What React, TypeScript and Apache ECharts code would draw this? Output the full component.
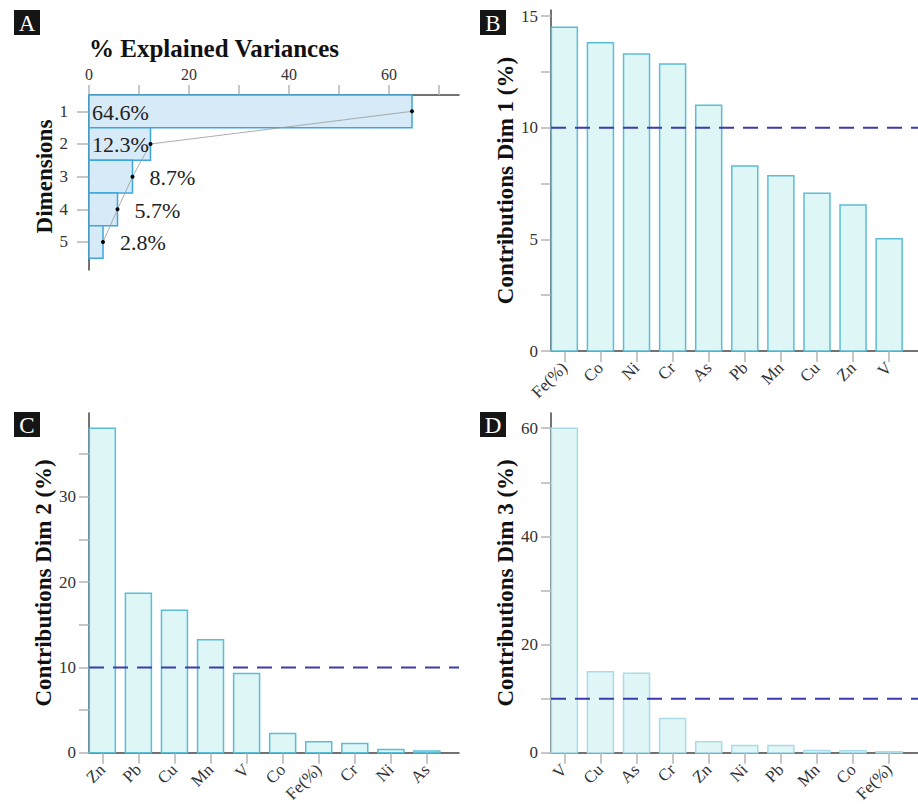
import React, { useEffect, useRef } from 'react';
import * as echarts from 'echarts';

// ---- Data ----
const dimIndex = [1, 2, 3, 4, 5];
const explainedVar = [64.6, 12.3, 8.7, 5.7, 2.8];
const varTickValues = [0, 10, 20, 30, 40, 50, 60, 70];
const varLabelValues = [0, 20, 40, 60];

const dim1Cats = ['Fe(%)', 'Co', 'Ni', 'Cr', 'As', 'Pb', 'Mn', 'Cu', 'Zn', 'V'];
const dim1Vals = [14.5, 13.8, 13.3, 12.85, 11.0, 8.28, 7.85, 7.06, 6.54, 5.03];
const dim1Ticks = [0, 2.5, 5, 7.5, 10, 12.5, 15];
const dim1Labels = [0, 5, 10, 15];

const dim2Cats = ['Zn', 'Pb', 'Cu', 'Mn', 'V', 'Co', 'Fe(%)', 'Cr', 'Ni', 'As'];
const dim2Vals = [38.0, 18.7, 16.7, 13.24, 9.3, 2.27, 1.3, 1.1, 0.4, 0.2];
const dim2Ticks = [0, 5, 10, 15, 20, 25, 30, 35];
const dim2Labels = [0, 10, 20, 30];

const dim3Cats = ['V', 'Cu', 'As', 'Cr', 'Zn', 'Ni', 'Pb', 'Mn', 'Co', 'Fe(%)'];
const dim3Vals = [60.0, 15.0, 14.7, 6.36, 2.03, 1.35, 1.35, 0.45, 0.4, 0.2];
const dim3Ticks = [0, 10, 20, 30, 40, 50, 60];
const dim3Labels = [0, 20, 40, 60];

const threshold = 10;

const FONT = '"Liberation Serif", "Times New Roman", serif';
const AXIS_COLOR = '#444';
const TICK_COLOR = '#b5b5b5';
const LABEL_COLOR = '#333';

export default function App() {
  const ref = useRef<HTMLDivElement>(null);

  useEffect(() => {
    if (!ref.current) return;
    const chart = echarts.init(ref.current, undefined, { renderer: 'svg' });

    const HALF = 0.36;
    const catMin = -0.37;

    const catXAxis = (gridIndex: number, cats: string[], max: number) => ({
      type: 'value',
      gridIndex,
      min: catMin,
      max,
      splitLine: { show: false },
      axisLine: { show: true, onZero: false, lineStyle: { color: AXIS_COLOR, width: 1.5 } },
      axisTick: {
        show: true,
        length: 11,
        customValues: cats.map((_, i) => i),
        lineStyle: { color: TICK_COLOR, width: 1.5 },
      },
      axisLabel: {
        show: true,
        customValues: cats.map((_, i) => i),
        formatter: (v: number) => cats[Math.round(v)] ?? '',
        rotate: 45,
        margin: 14,
        fontFamily: FONT,
        fontSize: 17,
        color: LABEL_COLOR,
      },
    });

    const valYAxis = (gridIndex: number, max: number, ticks: number[], labels: number[], name: string, nameGap: number) => ({
      type: 'value',
      gridIndex,
      min: 0,
      max,
      splitLine: { show: false },
      axisLine: { show: true, onZero: false, lineStyle: { color: AXIS_COLOR, width: 1.5 } },
      axisTick: { show: true, length: 10, customValues: ticks, lineStyle: { color: TICK_COLOR, width: 1.5 } },
      axisLabel: {
        show: true,
        customValues: labels,
        margin: 13,
        fontFamily: FONT,
        fontSize: 17,
        color: LABEL_COLOR,
      },
      name,
      nameLocation: 'middle',
      nameRotate: 90,
      nameGap,
      nameTextStyle: { fontFamily: FONT, fontSize: 23, fontWeight: 'bold', color: '#111' },
    });

    const barSeries = (idx: number, vals: number[], fill: string, stroke: string) => ({
      type: 'custom',
      xAxisIndex: idx,
      yAxisIndex: idx,
      data: vals.map((v, i) => [i, v]),
      renderItem: (params: any, api: any) => {
        const i = api.value(0);
        const v = api.value(1);
        const p1 = api.coord([i - HALF, v]);
        const p0 = api.coord([i + HALF, 0]);
        return {
          type: 'rect',
          shape: { x: p1[0], y: p1[1], width: p0[0] - p1[0], height: p0[1] - p1[1] },
          style: { fill, stroke, lineWidth: 1.5 },
        };
      },
      z: 2,
    });

    const threshSeries = (idx: number, max: number) => ({
      type: 'line',
      xAxisIndex: idx,
      yAxisIndex: idx,
      data: [[catMin, threshold], [max, threshold]],
      symbol: 'none',
      lineStyle: { type: [15, 9], color: '#3b3bb0', width: 2 },
      z: 5,
      silent: true,
    });

    const panelLabel = (letter: string, x: number, y: number) => ({
      type: 'group',
      x,
      y,
      children: [
        { type: 'rect', shape: { x: 0, y: 0, width: 26, height: 25 }, style: { fill: '#151515' } },
        {
          type: 'text',
          x: 13,
          y: 13,
          style: {
            text: letter,
            fill: '#fff',
            font: `23px ${FONT}`,
            textAlign: 'center',
            textVerticalAlign: 'middle',
          },
        },
      ],
    });

    const bMax = 9.8;
    const cMax = 9.89;
    const dMax = 9.8;

    const option: any = {
      animation: false,
      backgroundColor: '#fff',
      textStyle: { fontFamily: FONT },
      grid: [
        { left: 89, top: 95, width: 370, height: 175 },
        { left: 551, top: 10, width: 367, height: 341 },
        { left: 89, top: 413, width: 370, height: 340 },
        { left: 551, top: 413, width: 367, height: 340 },
      ],
      xAxis: [
        {
          type: 'value',
          gridIndex: 0,
          position: 'top',
          min: 0,
          max: 74,
          splitLine: { show: false },
          axisLine: { show: true, onZero: false, lineStyle: { color: AXIS_COLOR, width: 1.5 } },
          axisTick: { show: true, length: 10, customValues: varTickValues, lineStyle: { color: TICK_COLOR, width: 1.5 } },
          axisLabel: {
            show: true,
            customValues: varLabelValues,
            margin: 13,
            fontFamily: FONT,
            fontSize: 16,
            color: LABEL_COLOR,
          },
        },
        catXAxis(1, dim1Cats, bMax),
        catXAxis(2, dim2Cats, cMax),
        catXAxis(3, dim3Cats, dMax),
      ],
      yAxis: [
        {
          type: 'value',
          gridIndex: 0,
          inverse: true,
          min: 0.5,
          max: 5.858,
          splitLine: { show: false },
          axisLine: { show: true, onZero: false, lineStyle: { color: AXIS_COLOR, width: 1.5 } },
          axisTick: { show: true, length: 12, customValues: dimIndex, lineStyle: { color: TICK_COLOR, width: 1.5 } },
          axisLabel: {
            show: true,
            customValues: dimIndex,
            margin: 21,
            fontFamily: FONT,
            fontSize: 17,
            color: LABEL_COLOR,
          },
          name: 'Dimensions',
          nameLocation: 'middle',
          nameRotate: 90,
          nameGap: 32,
          nameTextStyle: { fontFamily: FONT, fontSize: 23, fontWeight: 'bold', color: '#111', padding: [0, 0, 0, 12] },
        },
        valYAxis(1, 15.27, dim1Ticks, dim1Labels, 'Contributions Dim 1 (%)', 32),
        valYAxis(2, 39.8, dim2Ticks, dim2Labels, 'Contributions Dim 2 (%)', 34),
        valYAxis(3, 62.8, dim3Ticks, dim3Labels, 'Contributions Dim 3 (%)', 32),
      ],
      series: [
        {
          type: 'custom',
          xAxisIndex: 0,
          yAxisIndex: 0,
          data: explainedVar.map((v, k) => [v, dimIndex[k]]),
          renderItem: (params: any, api: any) => {
            const v = api.value(0);
            const d = api.value(1);
            const p1 = api.coord([0, d - 0.5]);
            const p2 = api.coord([v, d + 0.5]);
            return {
              type: 'rect',
              shape: { x: p1[0], y: p1[1], width: p2[0] - p1[0], height: p2[1] - p1[1] },
              style: { fill: '#d7eaf7', stroke: '#3ea6dd', lineWidth: 1.5 },
            };
          },
          z: 2,
        },
        {
          type: 'line',
          xAxisIndex: 0,
          yAxisIndex: 0,
          data: explainedVar.map((v, k) => [v, dimIndex[k]]),
          symbol: 'circle',
          symbolSize: 4,
          itemStyle: { color: '#000' },
          lineStyle: { color: '#999', width: 0.8 },
          z: 4,
        },
        {
          type: 'custom',
          xAxisIndex: 0,
          yAxisIndex: 0,
          data: explainedVar.map((v, k) => [v, dimIndex[k]]),
          renderItem: (params: any, api: any) => {
            const v = api.value(0);
            const d = api.value(1);
            const inside = params.dataIndex < 2;
            const p = inside ? api.coord([0, d]) : api.coord([v, d]);
            return {
              type: 'text',
              x: p[0] + (inside ? 3 : 17),
              y: p[1] + 1,
              style: {
                text: v.toFixed(1) + '%',
                fill: '#222',
                font: `22px ${FONT}`,
                textAlign: 'left',
                textVerticalAlign: 'middle',
              },
            };
          },
          z: 6,
        },
        barSeries(1, dim1Vals, '#dff6f6', '#5bbdd6'),
        threshSeries(1, bMax),
        barSeries(2, dim2Vals, '#dff6f6', '#5bbdd6'),
        threshSeries(2, cMax),
        barSeries(3, dim3Vals, '#e0f6f7', '#a9dce7'),
        threshSeries(3, dMax),
      ],
      graphic: [
        panelLabel('A', 14, 10),
        panelLabel('B', 480, 10),
        panelLabel('C', 14, 412),
        panelLabel('D', 480, 412),
        {
          type: 'text',
          x: 214,
          y: 48,
          style: {
            text: '% Explained Variances',
            font: `bold 25px ${FONT}`,
            fill: '#111',
            textAlign: 'center',
            textVerticalAlign: 'middle',
          },
        },
      ],
    };

    chart.setOption(option);
    return () => chart.dispose();
  }, []);

  return (
    <div
      ref={ref}
      style={{ position: 'absolute', left: 0, top: 0, width: 918, height: 805 }}
    />
  );
}
